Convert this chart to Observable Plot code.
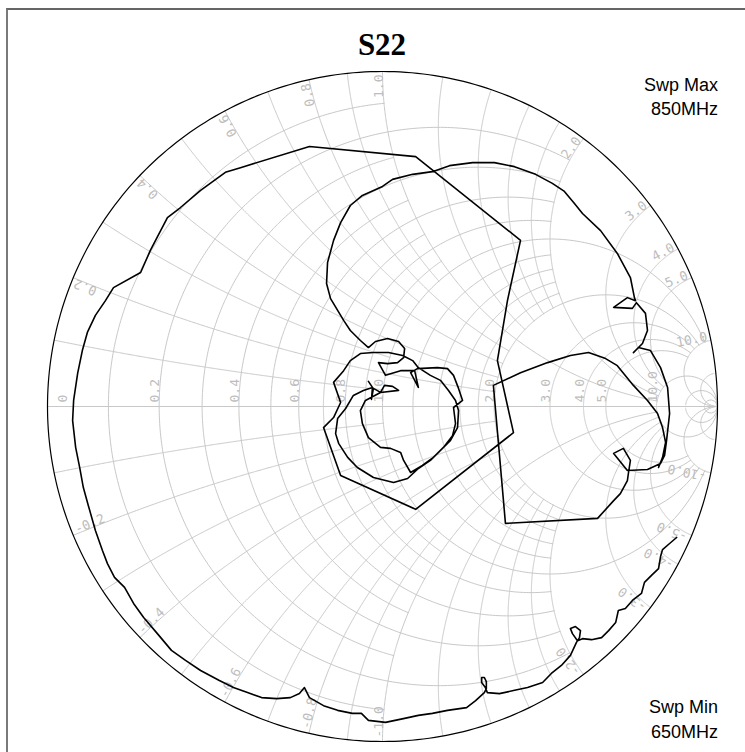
<!DOCTYPE html>
<html>
<head>
<meta charset="utf-8">
<script src="https://cdn.jsdelivr.net/npm/d3@7"></script>
<script src="https://cdn.jsdelivr.net/npm/@observablehq/plot@0.6"></script>
<style>
  html, body { margin: 0; padding: 0; background: #fff; }
  #wrap { position: relative; width: 745px; height: 752px; overflow: hidden; background: #fff; }
  #frame { position: absolute; left: 6px; top: 8px; width: 900px; height: 900px;
           border-left: 2px solid #7a7a7a; border-top: 2px solid #666; box-sizing: border-box; }
  #chart { position: absolute; left: 0; top: 0; }
  .t { position: absolute; white-space: nowrap; }
  #title { left: 232px; width: 300px; top: 29px; text-align: center;
           font: bold 31px/31px "Liberation Serif", "Times New Roman", serif; color: #000; }
  .sweep { right: 27px; text-align: right; font: 18px/18px "Liberation Sans", Arial, sans-serif; color: #000; }
</style>
</head>
<body>
<div id="wrap">
  <div id="frame"></div>
  <div id="chart"></div>
  <div id="title" class="t">S22</div>
  <div class="t sweep" style="top:76px">Swp Max</div>
  <div class="t sweep" style="top:100px">850MHz</div>
  <div class="t sweep" style="top:698px">Swp Min</div>
  <div class="t sweep" style="top:723px">650MHz</div>
</div>
<script>
// ---------- Grid definition (normalized impedance values) ----------
const resistanceValues = [0.1, 0.2, 0.3, 0.4, 0.5, 0.6, 0.7, 0.8, 0.9, 1, 1.2, 1.4, 1.6, 1.8, 2, 3, 4, 5, 10, 20, 50];
const resistanceReach  = [1, 2, 1, 2, 1, 2, 1, 2, 1, 10, 2, 2, 2, 2, 10, 10, 10, 10, Infinity, Infinity, Infinity];
const reactanceValues  = [0.1, 0.2, 0.3, 0.4, 0.5, 0.6, 0.7, 0.8, 0.9, 1, 1.2, 1.4, 1.6, 1.8, 2, 3, 4, 5, 10, 20];
const reactanceReach   = [1, 2, 1, 2, 1, 2, 1, 2, 1, 10, 2, 2, 2, 2, 10, 10, 10, 10, Infinity, Infinity];
const axisLabelValues  = [0, 0.2, 0.4, 0.6, 0.8, 1, 2, 3, 4, 5, 10];
const rimLabelValues   = [0.2, 0.4, 0.6, 0.8, 1, 2, 3, 4, 5, 10];

// ---------- S22 trace, reflection coefficient [Re, Im], 650 MHz -> 850 MHz ----------
const rimSweep = [
  [0.878,-0.391],[0.857,-0.409],[0.836,-0.427],[0.830,-0.448],[0.824,-0.484],[0.803,-0.504],[0.782,-0.525],
  [0.773,-0.558],[0.746,-0.579],[0.725,-0.603],[0.704,-0.609],[0.696,-0.645],[0.675,-0.669],[0.654,-0.690],
  [0.624,-0.696],[0.597,-0.693],[0.582,-0.699],[0.567,-0.678],[0.561,-0.663],[0.576,-0.657],[0.591,-0.669],
  [0.588,-0.690],[0.579,-0.704],[0.561,-0.743],[0.534,-0.773],[0.504,-0.797],[0.478,-0.824],[0.433,-0.839],
  [0.391,-0.848],[0.349,-0.857],[0.313,-0.854],[0.307,-0.839],[0.296,-0.824],[0.296,-0.809],[0.304,-0.809],
  [0.310,-0.821],[0.310,-0.842],[0.304,-0.854],[0.278,-0.878],[0.251,-0.899],[0.194,-0.907],[0.149,-0.916],
  [0.107,-0.922],[0.066,-0.931],[0.009,-0.943],[-0.042,-0.937],[-0.063,-0.916],[-0.090,-0.916],[-0.134,-0.907],
  [-0.176,-0.893],[-0.218,-0.869],[-0.233,-0.839],[-0.248,-0.857],[-0.275,-0.869],[-0.316,-0.872],[-0.361,-0.869],
  [-0.403,-0.854],[-0.445,-0.839],[-0.487,-0.818],[-0.543,-0.788],[-0.588,-0.758],[-0.630,-0.728],[-0.672,-0.678],
  [-0.713,-0.630],[-0.743,-0.588],[-0.770,-0.540],[-0.800,-0.510],[-0.821,-0.469],[-0.836,-0.430],[-0.857,-0.370],
  [-0.878,-0.296],[-0.893,-0.242],[-0.904,-0.182],[-0.916,-0.122],[-0.925,-0.042],[-0.922,0.018],[-0.910,0.099],
  [-0.896,0.167],[-0.881,0.221],[-0.857,0.272],[-0.827,0.316],[-0.803,0.355],[-0.722,0.400],[-0.693,0.466],
  [-0.642,0.564],[-0.603,0.594],[-0.543,0.645],[-0.469,0.699],[-0.424,0.713]
];
const upperPolygon = [
  [-0.218,0.776],[0.099,0.746],[0.412,0.496],[0.373,0.316],[0.343,0.137],[0.391,-0.078],[0.099,-0.307],
  [-0.125,-0.206],[-0.176,-0.063]
];
const centerTangle = [
  [-0.146,-0.033],[-0.125,0.012],[-0.146,0.072],[-0.116,0.107],[-0.096,0.137],[-0.066,0.158],[-0.027,0.161],
  [0.018,0.161],[0.060,0.152],[0.090,0.137],[0.107,0.116],[0.143,0.093],[0.173,0.078],[0.197,0.048],
  [0.218,0.018],[0.227,-0.012],[0.224,-0.063],[0.203,-0.101],[0.173,-0.131],[0.143,-0.161],[0.107,-0.185],
  [0.075,-0.215],[0.033,-0.227],[-0.027,-0.212],[-0.075,-0.182],[-0.104,-0.152],[-0.131,-0.110],[-0.140,-0.081],
  [-0.134,-0.036],[-0.110,-0.006],[-0.087,0.033],[-0.057,0.048],[-0.030,0.057],[-0.042,0.075],[-0.030,0.057],
  [-0.033,0.021],[-0.027,0.054],[-0.006,0.042],[0.006,0.063],[0.030,0.060],[0.048,0.048],[-0.006,0.042],
  [-0.051,0.018],[-0.066,-0.012],[-0.060,-0.051],[-0.042,-0.093],[-0.006,-0.122],[0.024,-0.125],[0.054,-0.137],
  [0.063,-0.161],[0.084,-0.197],[0.119,-0.176],[0.152,-0.152],[0.182,-0.122],[0.209,-0.087],[0.218,-0.051],
  [0.212,-0.003],[0.239,0.018],[0.227,0.054],[0.212,0.093],[0.194,0.113],[0.164,0.116],[0.104,0.113],
  [0.084,0.101],[0.107,0.057],[0.096,0.107],[0.054,0.107],[0.009,0.093]
];
const upperLobe = [
  [-0.012,0.131],[0.015,0.128],[0.045,0.131],[0.063,0.146],[0.066,0.173],[0.048,0.194],[0.015,0.203],
  [-0.021,0.194],[-0.042,0.176],[-0.066,0.197],[-0.096,0.227],[-0.116,0.257],[-0.155,0.322],[-0.167,0.367],
  [-0.164,0.430],[-0.146,0.496],[-0.125,0.549],[-0.096,0.600],[-0.060,0.630],[0.000,0.657],[0.030,0.678],
  [0.090,0.693],[0.149,0.701],[0.200,0.719],[0.269,0.728],[0.334,0.728],[0.394,0.716],[0.457,0.693],
  [0.507,0.666],[0.543,0.642],[0.573,0.606],[0.597,0.576],[0.651,0.525],[0.701,0.457],[0.740,0.385],
  [0.752,0.325],[0.755,0.316]
];
const rightLobe = [
  [0.731,0.325],[0.690,0.296],[0.746,0.293],[0.758,0.310],[0.785,0.278],[0.791,0.227],[0.776,0.188],
  [0.749,0.161],[0.764,0.176],[0.800,0.167],[0.830,0.116],[0.851,0.057],[0.857,-0.021],[0.848,-0.101],
  [0.842,-0.146],[0.830,-0.170],[0.791,-0.188],[0.731,-0.191],[0.690,-0.140],[0.719,-0.125],[0.740,-0.161],
  [0.734,-0.200],[0.731,-0.221],[0.710,-0.260],[0.690,-0.281],[0.642,-0.334],[0.367,-0.349],[0.331,0.063],
  [0.412,0.101],[0.493,0.131],[0.561,0.152],[0.615,0.161],[0.666,0.143],[0.701,0.122],[0.749,0.063],
  [0.791,0.018],[0.821,-0.021],[0.836,-0.063],[0.845,-0.107],[0.836,-0.152],[0.824,-0.182]
];

// ---------- layout ----------
const W = 745, H = 752;
const mL = 47, mR = 28, mT = 71, mB = 11;
const radiusPx = (W - mL - mR) / 2;
const px = 1 / radiusPx; // one pixel in reflection-coefficient units

function gamma(r, x) {
  const d = (r + 1) * (r + 1) + x * x;
  return [(r * r + x * x - 1) / d, (2 * x) / d];
}

const N = 360;
const gridPts = [];
resistanceValues.forEach((r, i) => {
  const t0 = Math.atan(resistanceReach[i]);
  for (let k = 0; k <= N; k++) {
    const t = -t0 + (2 * t0 * k) / N;
    const [gx, gy] = gamma(r, Math.tan(t));
    gridPts.push({gx, gy, id: "r" + r});
  }
});
reactanceValues.forEach((x, i) => {
  const t0 = Math.atan(reactanceReach[i]);
  for (const s of [1, -1]) {
    for (let k = 0; k <= N; k++) {
      const t = (t0 * k) / N;
      const [gx, gy] = gamma(Math.tan(t), s * x);
      gridPts.push({gx, gy, id: "x" + s * x});
    }
  }
});
gridPts.push({gx: -1, gy: 0, id: "axis"}, {gx: 1, gy: 0, id: "axis"});

const rim = d3.range(0, 361).map(a => ({gx: Math.cos(a * Math.PI / 180), gy: Math.sin(a * Math.PI / 180)}));

const trace = [...rimSweep, ...upperPolygon, ...centerTangle, ...upperLobe, ...rightLobe];

const axisLabels = axisLabelValues.map(r => ({
  gx: r === 0 ? -1 + 19 * px : (r - 1) / (r + 1),
  gy: 4 * px,
  text: r === 0 ? "0" : r.toFixed(1)
}));

const rimLabels = [];
rimLabelValues.forEach(v => {
  const [ux, uy] = gamma(0, v);
  rimLabels.push({gx: ux * (1 - 3 * px), gy: uy * (1 - 3 * px), text: v.toFixed(1),
                  angle: Math.atan2(-uy, ux) * 180 / Math.PI, anchor: "end"});
  const [nx, ny] = gamma(0, -v);
  rimLabels.push({gx: nx * (1 - 4 * px), gy: ny * (1 - 4 * px), text: "-" + v.toFixed(1),
                  angle: Math.atan2(ny, -nx) * 180 / Math.PI, anchor: "start"});
});

const labelFont = {fontFamily: "DejaVu Sans Mono, monospace", fontSize: 13, fill: "#bdbdbd"};

const chart = Plot.plot({
  width: W, height: H,
  marginLeft: mL, marginRight: mR, marginTop: mT, marginBottom: mB,
  x: {domain: [-1, 1], axis: null},
  y: {domain: [-1, 1], axis: null},
  style: {background: "transparent", overflow: "visible"},
  marks: [
    Plot.line(gridPts, {x: "gx", y: "gy", z: "id", stroke: "#c8c8c8", strokeWidth: 1}),
    Plot.text(axisLabels, {x: "gx", y: "gy", text: "text", rotate: -90, textAnchor: "start",
                           lineAnchor: "bottom", ...labelFont}),
    Plot.text(rimLabels.filter(d => d.anchor === "end"), {x: "gx", y: "gy", text: "text", rotate: "angle",
                           textAnchor: "end", lineAnchor: "bottom", ...labelFont}),
    Plot.text(rimLabels.filter(d => d.anchor === "start"), {x: "gx", y: "gy", text: "text", rotate: "angle",
                           textAnchor: "start", lineAnchor: "bottom", ...labelFont}),
    Plot.line(rim, {x: "gx", y: "gy", stroke: "#000", strokeWidth: 1.2}),
    Plot.line(trace, {x: d => d[0], y: d => d[1], stroke: "#000", strokeWidth: 1.6, strokeLinejoin: "round"})
  ]
});
document.getElementById("chart").appendChild(chart);
</script>
</body>
</html>
